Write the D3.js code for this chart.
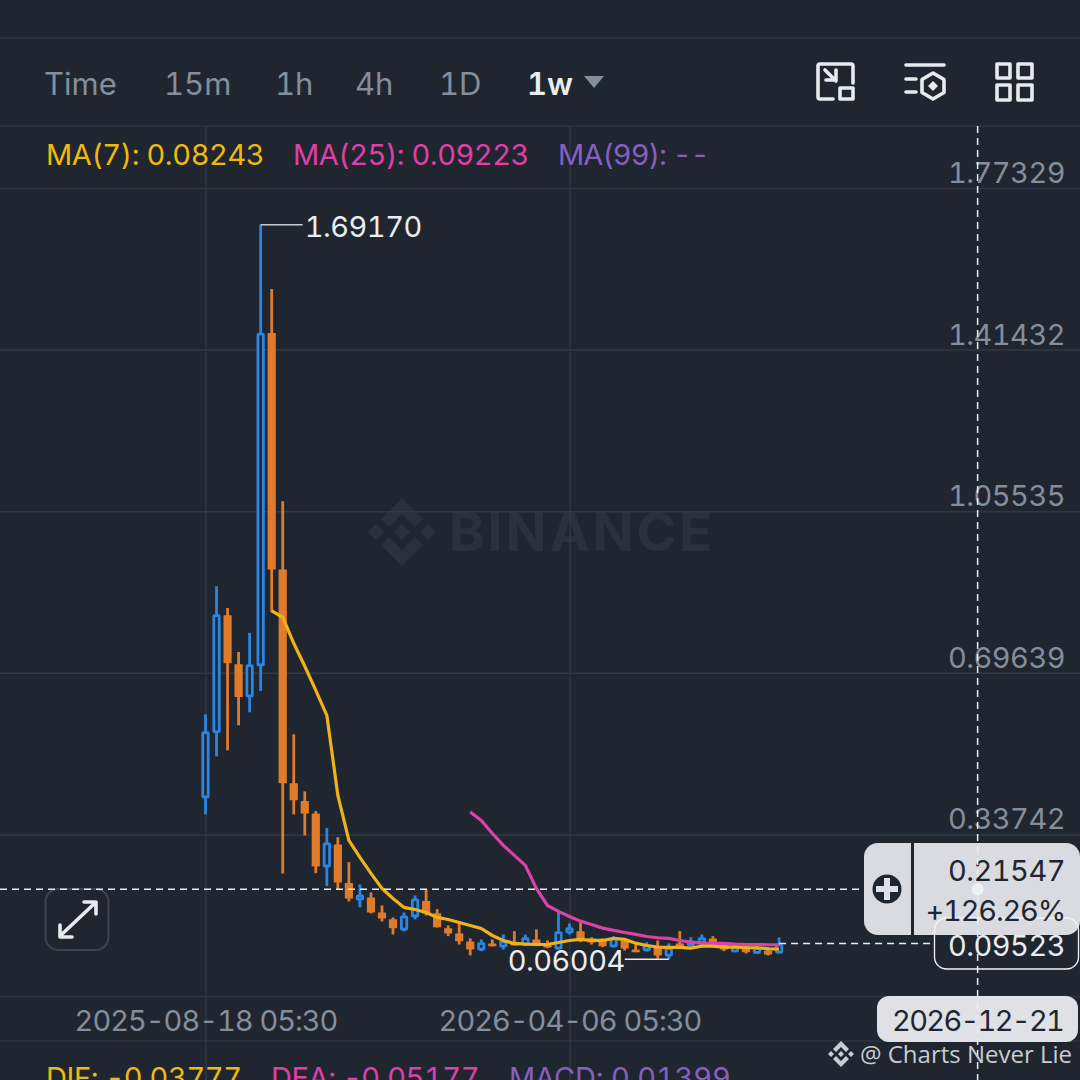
<!DOCTYPE html>
<html>
<head>
<meta charset="utf-8">
<script src="https://cdn.jsdelivr.net/npm/d3@7"></script>
<style>
    html, body { margin: 0; padding: 0; background: #1f2630; overflow: hidden; }
    svg { display: block; font-family: Inter, "Noto Sans", sans-serif; }
    text { font-variant-numeric: tabular-nums; }
    .domain { display: none; }
</style>
</head>
<body>
<svg id="chart" width="1080" height="1080"></svg>
<script>
const tabs = ["Time", "15m", "1h", "4h", "1D", "1w"];
const priceTicks = [1.77329, 1.41432, 1.05535, 0.69639, 0.33742, -0.02155];
const priceTickLabels = ["1.77329", "1.41432", "1.05535", "0.69639", "0.33742", ""];
const dateTicks = ["2025-08-18", "2026-04-06"];
const crossDate = "2026-12-21";
const crossPrice = 0.21547;
const crossChange = "+126.26%";
const lastPrice = 0.09523;
const highest = 1.69170;
const lowest = 0.06004;

// weekly candles
const opens = [0.4175, 0.5626, 0.8242, 0.7153, 0.6419, 0.7108, 1.4510, 0.9258, 0.4508, 0.4115, 0.3841, 0.2641, 0.3152,
    0.2292, 0.1907, 0.1974, 0.1641, 0.1492, 0.1241, 0.1530, 0.1892, 0.1625, 0.1292, 0.1174, 0.0996, 0.0796, 0.0952,
    0.0863, 0.0958, 0.0907, 0.1041, 0.0929, 0.0818, 0.1180, 0.1225, 0.1063, 0.1018, 0.0869, 0.1018, 0.0818, 0.0781,
    0.0885, 0.0663, 0.0952, 0.0892, 0.0952, 0.1063, 0.0929, 0.0758, 0.0885, 0.0722, 0.0796, 0.0729];
const closes = [0.5664, 0.8264, 0.7175, 0.6426, 0.7153, 1.4517, 0.9258, 0.4508, 0.4130, 0.3841, 0.2663, 0.3197, 0.2307,
    0.1952, 0.2041, 0.1641, 0.1507, 0.1292, 0.1574, 0.1952, 0.1618, 0.1314, 0.1174, 0.1003, 0.0818, 0.0981, 0.0892,
    0.1018, 0.0907, 0.1092, 0.0907, 0.0863, 0.1225, 0.1314, 0.1018, 0.0974, 0.0892, 0.1085, 0.0840, 0.0758, 0.0929,
    0.0685, 0.0869, 0.0885, 0.1018, 0.1092, 0.0907, 0.0818, 0.0907, 0.0758, 0.0869, 0.0707, 0.09523];
const highs = [0.6042, 0.8887, 0.8404, 0.7426, 0.7849, 1.6917, 1.5488, 1.0776, 0.5597, 0.4330, 0.3892, 0.3514, 0.3314,
    0.2759, 0.2263, 0.2085, 0.1796, 0.1530, 0.1641, 0.2019, 0.2152, 0.1714, 0.1352, 0.1447, 0.1063, 0.1041, 0.1041,
    0.1152, 0.1225, 0.1152, 0.1263, 0.1018, 0.1647, 0.1396, 0.1418, 0.1092, 0.1063, 0.1114, 0.1063, 0.0929, 0.0981,
    0.1018, 0.0952, 0.1225, 0.1092, 0.1152, 0.1114, 0.0952, 0.0945, 0.0929, 0.0907, 0.0869, 0.1085];
const lows = [0.3819, 0.5108, 0.5241, 0.5797, 0.6086, 0.6560, 0.8315, 0.2507, 0.3819, 0.3352, 0.2514, 0.2225, 0.2152,
    0.1885, 0.1752, 0.1618, 0.1441, 0.1152, 0.1218, 0.1485, 0.1574, 0.1307, 0.1114, 0.0929, 0.0685, 0.0781, 0.0885,
    0.0818, 0.0907, 0.0892, 0.0892, 0.0847, 0.0818, 0.1152, 0.0981, 0.0929, 0.0869, 0.0863, 0.0796, 0.0758, 0.0774,
    0.0618, 0.06004, 0.0869, 0.0885, 0.0907, 0.0869, 0.0781, 0.0758, 0.0729, 0.0722, 0.0685, 0.0729];
// averages start at candle 6 and candle 24
const ma7 = [0.8338, 0.8198, 0.7620, 0.7108, 0.6575, 0.6019, 0.4241, 0.3241, 0.2863, 0.2507, 0.2174, 0.1952, 0.1752,
    0.1707, 0.1641, 0.1530, 0.1485, 0.1418, 0.1352, 0.1285, 0.1129, 0.1018, 0.0952, 0.0936, 0.0929, 0.0929, 0.0974,
    0.1018, 0.1041, 0.1018, 0.1018, 0.1063, 0.1041, 0.0958, 0.0907, 0.0869, 0.0863, 0.0863, 0.0847, 0.0892, 0.0892,
    0.0869, 0.0869, 0.0856, 0.0856, 0.0834, 0.08243];
const ma25 = [0.3870, 0.3686, 0.3397, 0.3130, 0.2908, 0.2685, 0.2174, 0.1796, 0.1663, 0.1552, 0.1447, 0.1374, 0.1292,
    0.1241, 0.1196, 0.1152, 0.1107, 0.1078, 0.1063, 0.1018, 0.0981, 0.0958, 0.0952, 0.0952, 0.0936, 0.0929, 0.0929,
    0.0923, 0.09223];
const ma7Start = 6;
const ma25Start = 24;

const maLegend = [["MA(7): 0.08243", "#f0b90b"], ["MA(25): 0.09223", "#e13fa8"], ["MA(99): --", "#8660c0"]];
const macdLegend = [["DIF: -0.03777", "#f0b90b"], ["DEA: -0.05177", "#e13fa8"], ["MACD: 0.01399", "#8660c0"]];

const bg = "#1f2630";
const gridColor = "#323843";
const grey = "#848e9c";
const up = "#2a86e2";
const down = "#e07b2b";
const pill = "#dfe1e6";
const dark = "#1f2630";
const fontSize = 29;

const svg = d3.select("#chart");
const parseDay = d3.utcParse("%Y-%m-%d");
const firstWeek = parseDay(dateTicks[0]);
const weekDate = i => d3.utcDay.offset(firstWeek, i * 7);

const x = d3.scaleUtc().domain(dateTicks.map(parseDay)).range([205.5, 569.5]);
const y = d3.scaleLinear().domain([priceTicks[5], priceTicks[0]]).range([996, 188]);

// frame lines
[38, 126, 1041].forEach(v => {
    svg.append("line").attr("x1", 0).attr("x2", 1080).attr("y1", v).attr("y2", v)
        .attr("stroke", "#2e343e").attr("stroke-width", 1.5);
});

// watermark sits under the grid
const logo = svg.append("g").attr("transform", "translate(402,532)").attr("fill", "#2b313c");
logo.append("path").attr("d", "M0,-34 L21,-13 L13,-5 L0,-18 L-13,-5 L-21,-13 Z");
logo.append("path").attr("d", "M0,34 L21,13 L13,5 L0,18 L-13,5 L-21,13 Z");
logo.append("path").attr("d", "M0,-8 L8,0 L0,8 L-8,0 Z");
logo.append("path").attr("d", "M-26,-8 L-18,0 L-26,8 L-34,0 Z");
logo.append("path").attr("d", "M26,-8 L34,0 L26,8 L18,0 Z");
svg.append("text").attr("x", 449).attr("y", 551).attr("fill", "#2b313c")
    .attr("font-size", 54).attr("font-weight", 700).attr("letter-spacing", 2.8).text("BINANCE");

// axes and grid
const yAxis = d3.axisLeft(y).tickValues(priceTicks).tickSize(1080)
    .tickFormat((d, i) => priceTickLabels[i]);
const yG = svg.append("g").attr("transform", "translate(1080,0)").call(yAxis);
yG.selectAll(".tick line").attr("stroke", gridColor).attr("stroke-width", 1.5);
yG.selectAll(".tick text").attr("x", -15).attr("dy", "0.36em").attr("text-anchor", "end")
    .attr("fill", grey).attr("font-size", fontSize).attr("letter-spacing", -0.5)
    .attr("font-family", "Inter, sans-serif").attr("transform", "translate(0,-16)");

const xAxis = d3.axisBottom(x).tickValues(dateTicks.map(parseDay)).tickSize(915)
    .tickFormat(d => d3.utcFormat("%Y-%m-%d")(d) + " 05:30");
const xG = svg.append("g").attr("transform", "translate(0,126)").call(xAxis);
xG.selectAll(".tick line").attr("stroke", gridColor).attr("stroke-width", 1.5);
xG.selectAll(".tick text").attr("y", 905).attr("dy", 0).attr("fill", grey)
    .attr("font-size", fontSize).attr("letter-spacing", -1).attr("font-family", "Inter, sans-serif");
xG.selectAll(".tick").append("line").attr("y1", 915).attr("y2", 954)
    .attr("stroke", gridColor).attr("stroke-width", 1.5);

// candles
const candles = d3.range(opens.length).map(i => ({
    date: weekDate(i), open: opens[i], close: closes[i], high: highs[i], low: lows[i]
}));
const rising = d => d.close >= d.open;
const bodyW = 8.2;
const edge = 2.8;

const candle = svg.append("g").selectAll("g").data(candles).join("g")
    .attr("stroke", d => rising(d) ? up : down)
    .attr("fill", d => rising(d) ? up : down);
candle.append("line")
    .attr("x1", d => x(d.date)).attr("x2", d => x(d.date))
    .attr("y1", d => y(d.high)).attr("y2", d => y(d.low))
    .attr("stroke-width", edge);
// blue bodies are hollow, so their outline is kept inside the body width
candle.append("rect")
    .attr("x", d => x(d.date) - bodyW / 2 + (rising(d) ? edge / 2 : 0))
    .attr("width", d => rising(d) ? bodyW - edge : bodyW)
    .attr("y", d => y(Math.max(d.open, d.close)) + (rising(d) ? edge / 2 : 0))
    .attr("height", d => Math.max(1.5, Math.abs(y(d.open) - y(d.close)) - (rising(d) ? edge : 0)))
    .attr("fill", d => rising(d) ? bg : down)
    .attr("stroke-width", d => rising(d) ? edge : 0)
    .attr("rx", 0.5);

// moving averages
const line = d3.line().x(d => x(d.date)).y(d => y(d.value));
const ma25Points = ma25.map((v, i) => ({ date: weekDate(i + ma25Start), value: v }));
const ma7Points = ma7.map((v, i) => ({ date: weekDate(i + ma7Start), value: v }));
svg.append("path").datum(ma25Points).attr("d", line).attr("fill", "none")
    .attr("stroke", "#d942a6").attr("stroke-width", 3.2);
svg.append("path").datum(ma7Points).attr("d", line).attr("fill", "none")
    .attr("stroke", "#eeb21a").attr("stroke-width", 3.2);

// high and low markers
const highX = x(weekDate(highs.indexOf(highest)));
svg.append("line").attr("x1", highX).attr("x2", highX + 42)
    .attr("y1", y(highest)).attr("y2", y(highest)).attr("stroke", "#c9ccd1").attr("stroke-width", 1.5);
svg.append("text").attr("x", highX + 44).attr("y", y(highest) + 12).attr("fill", "#eaecef")
    .attr("font-size", fontSize).attr("letter-spacing", -0.5).text(highest.toFixed(5));
const lowX = x(weekDate(lows.indexOf(lowest)));
svg.append("line").attr("x1", lowX - 44).attr("x2", lowX)
    .attr("y1", y(lowest)).attr("y2", y(lowest)).attr("stroke", "#e6e8eb").attr("stroke-width", 1.5);
svg.append("text").attr("x", lowX - 44).attr("y", y(lowest) + 12).attr("text-anchor", "end").attr("fill", "#eaecef")
    .attr("font-size", fontSize).attr("letter-spacing", -0.5).text(lowest.toFixed(5));

// tabs
const tabX = [44, 164, 275, 355, 439, 527];
svg.append("g").selectAll("text").data(tabs).join("text")
    .attr("x", (d, i) => tabX[i]).attr("y", 95).attr("font-size", 31)
    .attr("fill", d => d === "1w" ? "#eaecef" : grey)
    .attr("font-weight", d => d === "1w" ? 600 : 400)
    .text(d => d);
svg.append("path").attr("d", "M584,76 H604 L594,88 Z").attr("fill", grey);

// toolbar icons
const iconStroke = { fill: "none", stroke: "#e8eaed", "stroke-width": 3.6, "stroke-linecap": "round", "stroke-linejoin": "round" };
const icon = d => {
    const p = svg.append("path").attr("d", d);
    Object.entries(iconStroke).forEach(([k, v]) => p.attr(k, v));
};
icon("M853,83 V66 Q853,64 851,64 H820 Q818,64 818,66 V97 Q818,99 820,99 H833");
icon("M840,88 H853 V99 H840 Z");
icon("M825,70 L836,81 M826,80 H836 V70");
icon("M906,65 H944 M906,79 H916 M906,92 H916");
icon("M933,73 L944,79.5 V92.5 L933,99 L922,92.5 V79.5 Z");
svg.append("path").attr("d", "M933,81 L938,86 L933,91 L928,86 Z").attr("fill", "#e8eaed");
icon("M997,64 H1010 V78 H997 Z M1018,64 H1032 V78 H1018 Z M997,85 H1010 V100 H997 Z M1018,85 H1032 V100 H1018 Z");

// legends
const legend = (items, xs, ly, spacing) => {
    svg.append("g").selectAll("text").data(items).join("text")
        .attr("x", (d, i) => xs[i]).attr("y", ly).attr("font-size", fontSize)
        .attr("letter-spacing", (d, i) => spacing[i])
        .attr("fill", d => d[1]).text(d => d[0]);
};
legend(maLegend, [46, 293, 558], 165, [-0.4, -0.45, -0.9]);
legend(macdLegend, [46, 271, 509], 1088, [-0.4, -0.4, -0.15]);

// expand button
svg.append("rect").attr("x", 45.5).attr("y", 889).attr("width", 63).attr("height", 61).attr("rx", 13)
    .attr("fill", bg).attr("stroke", "#3d444e").attr("stroke-width", 2);
icon("M60,936 L95,903 M60,925 V937 H72 M84,902 H96 V914");

// crosshair dashes
svg.append("line").attr("x1", 0).attr("x2", 864).attr("y1", y(crossPrice)).attr("y2", y(crossPrice))
    .attr("stroke", "#eaecef").attr("stroke-width", 1.5).attr("stroke-dasharray", "7 5");
svg.append("line").attr("x1", x(weekDate(52))).attr("x2", 934).attr("y1", y(lastPrice)).attr("y2", y(lastPrice))
    .attr("stroke", "#eaecef").attr("stroke-width", 1.5).attr("stroke-dasharray", "7 5");

// last price box
svg.append("rect").attr("x", 934.5).attr("y", 918).attr("width", 144).attr("height", 51).attr("rx", 12)
    .attr("fill", bg);
svg.append("text").attr("x", 1065).attr("y", 956).attr("text-anchor", "end").attr("fill", "#eaecef")
    .attr("font-size", fontSize).attr("letter-spacing", -0.5).text(lastPrice.toFixed(5));

// cross price pill
svg.append("rect").attr("x", 864).attr("y", 843).attr("width", 216).attr("height", 92).attr("rx", 14)
    .attr("fill", pill).attr("fill-opacity", 0.97);
svg.append("rect").attr("x", 911).attr("y", 843).attr("width", 3).attr("height", 92).attr("fill", dark);
svg.append("circle").attr("cx", 887).attr("cy", 889).attr("r", 14.5).attr("fill", dark);
svg.append("path").attr("d", "M884,878 H890 V886 H898 V892 H890 V900 H884 V892 H876 V886 H884 Z").attr("fill", pill);
// box outline shows through the pill
svg.append("rect").attr("x", 934.5).attr("y", 918).attr("width", 144).attr("height", 51).attr("rx", 12)
    .attr("fill", "none").attr("stroke", "#f2f3f5").attr("stroke-width", 1.3);
svg.append("text").attr("x", 1065).attr("y", 881).attr("text-anchor", "end").attr("fill", dark)
    .attr("font-size", fontSize).attr("letter-spacing", -0.5).text(crossPrice.toFixed(5));
svg.append("text").attr("x", 1065).attr("y", 921).attr("text-anchor", "end").attr("fill", dark)
    .attr("font-size", fontSize).attr("letter-spacing", -1.2).text(crossChange);

// cross date pill
svg.append("rect").attr("x", 877).attr("y", 996).attr("width", 201).attr("height", 46).attr("rx", 12).attr("fill", pill);
svg.append("text").attr("x", x(parseDay(crossDate))).attr("y", 1031).attr("text-anchor", "middle").attr("fill", dark)
    .attr("font-size", fontSize).attr("letter-spacing", -1.7).text(crossDate);

// vertical crosshair runs over everything
svg.append("line").attr("x1", x(parseDay(crossDate))).attr("x2", x(parseDay(crossDate))).attr("y1", 126).attr("y2", 1080)
    .attr("stroke", "#eaecef").attr("stroke-width", 1.5).attr("stroke-dasharray", "7 5");
svg.append("circle").attr("cx", x(parseDay(crossDate))).attr("cy", y(crossPrice)).attr("r", 6)
    .attr("fill", "#eef0f3");

// source stamp
const stamp = svg.append("g").attr("transform", "translate(841,1054)").attr("fill", "#c9ccd1");
stamp.append("path").attr("d", "M0,-13 L8,-5 L5,-2 L0,-7 L-5,-2 L-8,-5 Z");
stamp.append("path").attr("d", "M0,13 L8,5 L5,2 L0,7 L-5,2 L-8,5 Z");
stamp.append("path").attr("d", "M0,-3 L3,0 L0,3 L-3,0 Z M-10,-3 L-7,0 L-10,3 L-13,0 Z M10,-3 L13,0 L10,3 L7,0 Z");
svg.append("text").attr("x", 860).attr("y", 1063).attr("fill", "#c9ccd1")
    .attr("font-size", 24).attr("font-family", "'Open Sans', sans-serif").text("@ Charts Never Lie");
</script>
</body>
</html>
